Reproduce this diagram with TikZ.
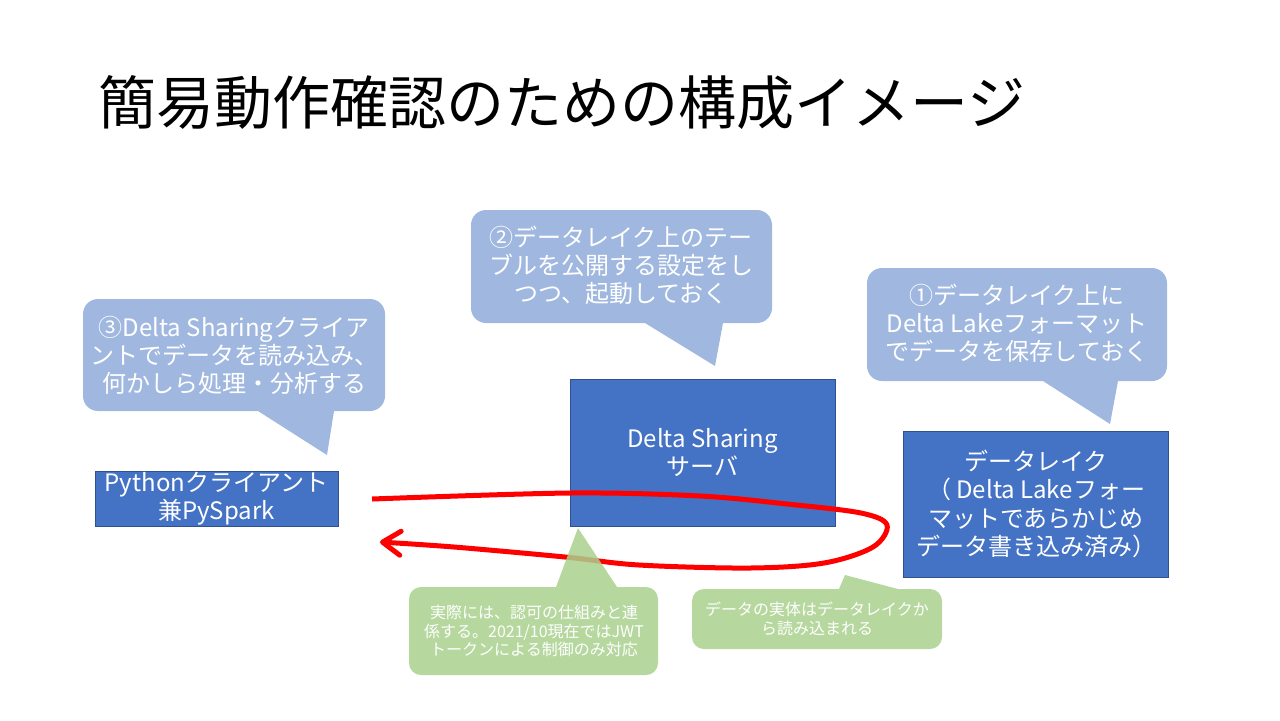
\documentclass[tikz,border=0pt]{standalone}
\usepackage{fontspec}
\setmainfont{Noto Sans CJK JP}
\usetikzlibrary{arrows.meta}
\definecolor{boxblue}{HTML}{4472C4}
\definecolor{boxedge}{HTML}{2F528F}
\definecolor{callblue}{HTML}{A0B8DF}
\definecolor{callgreen}{HTML}{A9D18E}
\definecolor{arrowred}{HTML}{FF0000}
\tikzset{
  box/.style={draw=boxedge, line width=0.5pt, fill=boxblue, text=white, align=center,
    inner sep=0pt, font=\fontsize{12}{14.2}\selectfont},
  ctext/.style={text=white, align=center, inner sep=0pt, font=\fontsize{12}{14}\selectfont},
  gtext/.style={text=white, align=center, inner sep=0pt, font=\fontsize{8}{9.4}\selectfont},
  bluecall/.style={fill=callblue},
  greencall/.style={fill=callgreen, fill opacity=0.85},
  flow/.style={draw=arrowred, line width=2.5pt, -{Straight Barb[length=9pt,width=12pt,round]}},
}
\begin{document}
\begin{tikzpicture}[x=0.5pt,y=-0.5pt]
\useasboundingbox (0,0) rectangle (1280,720);
% title
\node[anchor=west, inner sep=0pt, font=\fontsize{29}{30}\selectfont] (title) at (98,103) {簡易動作確認のための構成イメージ};

% blue callouts
\fill[bluecall, rounded corners=7.5pt] (83,299) rectangle (385,411) [sharp corners] (258,411) -- (327,455) -- (334,411) -- cycle;
\node[ctext] (c3) at (234,355) {③Delta Sharingクライア\\ントでデータを読み込み、\\何かしら処理・分析する};

\fill[bluecall, rounded corners=7.5pt] (471,210) rectangle (772,323) [sharp corners] (645,323) -- (715,366) -- (723,323) -- cycle;
\node[ctext] (c2) at (621,265) {②データレイク上のテー\\ブルを公開する設定をし\\つつ、起動しておく};

\fill[bluecall, rounded corners=7.5pt] (867,268) rectangle (1167,381) [sharp corners] (1043,381) -- (1110,424) -- (1118,381) -- cycle;
\node[ctext] (c1) at (1017,323) {①データレイク上に\\Delta Lakeフォーマット\\でデータを保存しておく};

% main boxes
\node[box, minimum width=121.5pt, minimum height=27.5pt] (py) at (216.5,498.5) {Pythonクライアント\\兼PySpark};
\node[box, minimum width=132.5pt, minimum height=73.5pt] (srv) at (702.5,452.5) {Delta Sharing\\サーバ};
\node[box, minimum width=132.5pt, minimum height=73pt] (lake) at (1036,504) {データレイク\\（ Delta Lakeフォー\\マットであらかじめ\\データ書き込み済み）};

% red flow
\coordinate (r0) at (372,499);
\coordinate (r1) at (380,542);
\draw[flow] plot[smooth, tension=0.55] coordinates {(r0) (570,493) (700,496) (787,504) (861,513) (887,525) (873,547) (824,563) (750,568) (639,565) (565,557) (454,547) (r1)};

% green callouts
\fill[greencall, rounded corners=6pt] (409,587) rectangle (658,675) [sharp corners] (556,587) -- (578,528) -- (617,587) -- cycle;
\node[gtext] (g1) at (534,631) {実際には、認可の仕組みと連\\係する。2021/10現在ではJWT\\トークンによる制御のみ対応};

\fill[greencall, rounded corners=6pt] (692,589) rectangle (942,649) [sharp corners] (839,589) -- (845,575) -- (898,589) -- cycle;
\node[gtext] (g2) at (817,619) {データの実体はデータレイクか\\ら読み込まれる};
\end{tikzpicture}
\end{document}
